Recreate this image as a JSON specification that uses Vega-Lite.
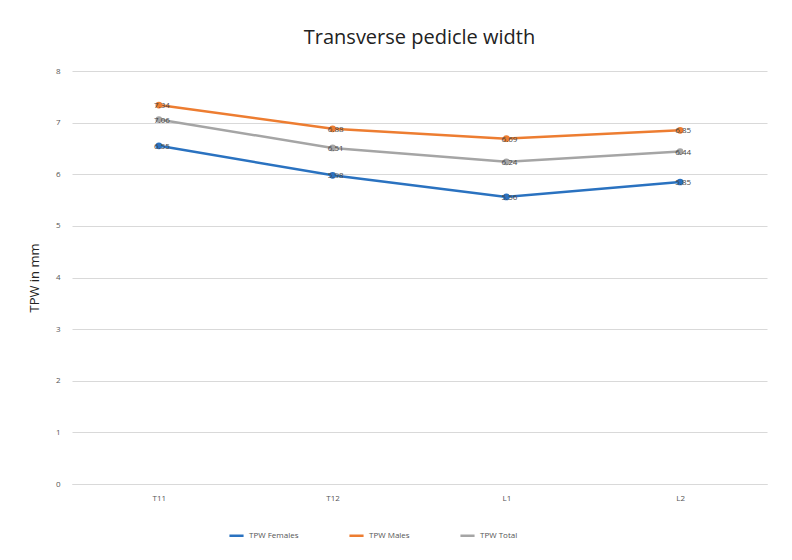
{
  "$schema": "https://vega.github.io/schema/vega-lite/v6.json",
  "width": 695,
  "height": 413,
  "autosize": {"type": "none"},
  "padding": {"left": 72, "top": 71, "right": 25, "bottom": 76},
  "background": "white",
  "config": {"view": {"stroke": null}, "font": "Open Sans"},
  "title": {"text": "Transverse pedicle width", "fontSize": 20, "font": "Open Sans", "fontWeight": "normal", "color": "#222222", "anchor": "middle", "offset": 19},
  "data": {"values": [
    {"level": "T11", "series": "TPW Females", "value": 6.55},
    {"level": "T12", "series": "TPW Females", "value": 5.98},
    {"level": "L1", "series": "TPW Females", "value": 5.56},
    {"level": "L2", "series": "TPW Females", "value": 5.85},
    {"level": "T11", "series": "TPW Males", "value": 7.34},
    {"level": "T12", "series": "TPW Males", "value": 6.88},
    {"level": "L1", "series": "TPW Males", "value": 6.69},
    {"level": "L2", "series": "TPW Males", "value": 6.85},
    {"level": "T11", "series": "TPW Total", "value": 7.06},
    {"level": "T12", "series": "TPW Total", "value": 6.51},
    {"level": "L1", "series": "TPW Total", "value": 6.24},
    {"level": "L2", "series": "TPW Total", "value": 6.44}
  ]},
  "encoding": {
    "x": {"field": "level", "type": "nominal", "sort": ["T11", "T12", "L1", "L2"],
      "scale": {"type": "point", "padding": 0.5},
      "axis": {"title": null, "labelAngle": 0, "ticks": false, "domain": true, "domainColor": "#d9d9d9", "labelFontSize": 8, "labelColor": "#555555", "labelPadding": 10, "grid": false}},
    "y": {"field": "value", "type": "quantitative",
      "scale": {"domain": [0, 8], "nice": false},
      "axis": {"title": "TPW in mm", "titleFontSize": 13, "titleFontWeight": "normal", "titleColor": "#222222", "titlePadding": 14, "values": [0,1,2,3,4,5,6,7,8], "labelOverlap": false, "ticks": false, "domain": false, "gridColor": "#d9d9d9", "labelFontSize": 8, "labelColor": "#555555", "labelPadding": 12}},
    "color": {"field": "series", "type": "nominal",
      "scale": {"domain": ["TPW Females", "TPW Males", "TPW Total"], "range": ["#2A72C0", "#ED7D31", "#A5A5A5"]},
      "legend": {"title": null, "orient": "none", "legendX": 156, "legendY": 456, "direction": "horizontal", "labelFontSize": 8, "labelColor": "#555555", "symbolType": "stroke", "symbolStrokeWidth": 2.5, "symbolSize": 200, "columnPadding": 45}}
  },
  "layer": [
    {"mark": {"type": "line", "strokeWidth": 2.5}},
    {"mark": {"type": "point", "filled": true, "size": 45, "opacity": 1}},
    {"mark": {"type": "text", "fontSize": 8, "color": "#444444", "dx": 3, "dy": 1}, "encoding": {"text": {"field": "value", "type": "quantitative", "format": ".2f"}, "color": {"value": "#444444"}}}
  ]
}
